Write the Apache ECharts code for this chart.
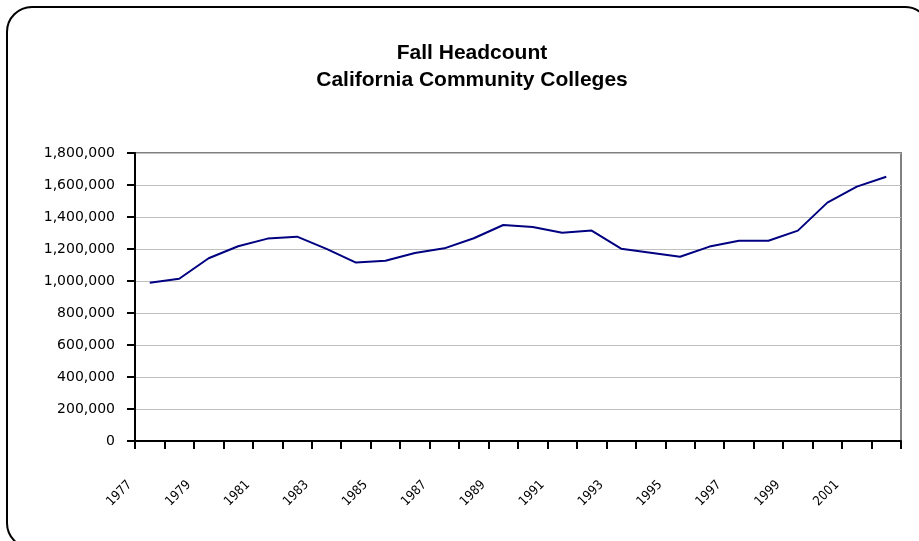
<!DOCTYPE html>
<html>
<head>
<meta charset="utf-8">
<script src="https://cdn.jsdelivr.net/npm/echarts@6/dist/echarts.min.js"></script>
<style>
html,body{margin:0;padding:0;background:#fff;}
#chart{width:919px;height:541px;}
</style>
</head>
<body>
<div id="chart"></div>
<script>
var years = ['1977','1978','1979','1980','1981','1982','1983','1984','1985','1986','1987','1988','1989','1990','1991','1992','1993','1994','1995','1996','1997','1998','1999','2000','2001','2002'];
var headcount = [989000,1014000,1142000,1217000,1265000,1277000,1201000,1115000,1127000,1175000,1204000,1267000,1350000,1338000,1302000,1315000,1202000,1177000,1152000,1215000,1252000,1252000,1315000,1490000,1590000,1652000];
var yTicks = {min:0, max:1800000, interval:200000};
var titleText = 'Fall Headcount\nCalifornia Community Colleges';

var chart = echarts.init(document.getElementById('chart'));
chart.setOption({
  animation:false,
  backgroundColor:'#ffffff',
  title:{
    text:titleText,
    left:467, top:35, textAlign:'center',
    textStyle:{fontFamily:'Liberation Sans, Arial, sans-serif', fontWeight:'bold', fontSize:21, lineHeight:27, color:'#000'}
  },
  graphic:[{
    type:'rect', shape:{x:7, y:7, width:923, height:541, r:25},
    style:{fill:'none', stroke:'#000', lineWidth:2}, z:-1
  }],
  grid:{left:135, right:18, top:153, bottom:100, show:true, borderColor:'#808080', borderWidth:2, backgroundColor:'transparent'},
  xAxis:{
    type:'category', data:years, boundaryGap:true,
    axisLine:{show:true, lineStyle:{color:'#000', width:2}},
    axisTick:{show:true, interval:0, length:8, lineStyle:{color:'#000', width:2}},
    axisLabel:{interval:1, rotate:45, margin:22, padding:[0,28,0,0], fontFamily:'DejaVu Sans Condensed, DejaVu Sans, sans-serif', fontSize:13, color:'#000'},
    splitLine:{show:false}
  },
  yAxis:{
    type:'value', min:yTicks.min, max:yTicks.max, interval:yTicks.interval,
    axisLine:{show:true, lineStyle:{color:'#000', width:2}},
    axisTick:{show:true, length:8, lineStyle:{color:'#000', width:2}},
    axisLabel:{margin:20, fontFamily:'DejaVu Sans, Verdana, sans-serif', fontSize:14, color:'#000',
      formatter:function(v){return v.toString().replace(/\B(?=(\d{3})+(?!\d))/g, ',');}},
    splitLine:{show:true, lineStyle:{color:'#c0c0c0', width:1}}
  },
  series:[{
    type:'line', data:headcount, symbol:'none', showSymbol:false,
    lineStyle:{color:'#000080', width:2}, itemStyle:{color:'#000080'}
  }]
});
</script>
</body>
</html>
